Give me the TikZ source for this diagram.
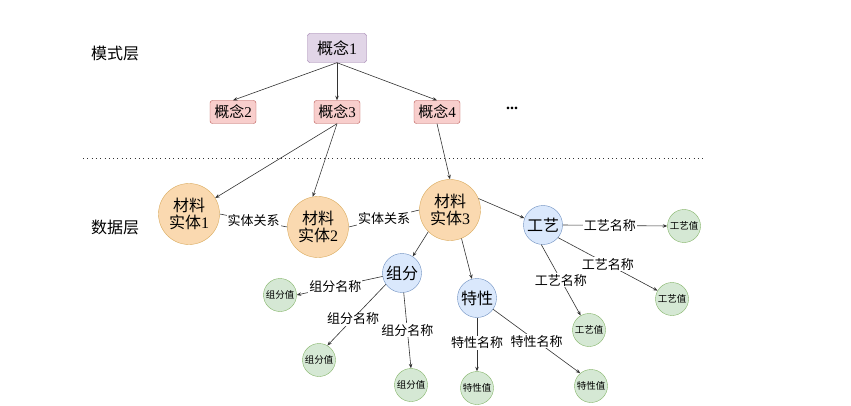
\documentclass[tikz,border=0pt]{standalone}
\usepackage{fontspec}
\setmainfont{Liberation Serif}
\newfontfamily\cjk{Noto Sans CJK SC}
\usetikzlibrary{arrows.meta}
\definecolor{purfill}{HTML}{E1D5E7}\definecolor{purline}{HTML}{9673A6}
\definecolor{redfill}{HTML}{F8CECC}\definecolor{redline}{HTML}{B85450}
\definecolor{orgfill}{HTML}{FAD9B0}\definecolor{orgline}{HTML}{D9A95A}
\definecolor{blufill}{HTML}{DAE8FC}\definecolor{bluline}{HTML}{6C8EBF}
\definecolor{grnfill}{HTML}{D5E8D4}\definecolor{grnline}{HTML}{82B366}
\definecolor{ln}{HTML}{333333}
\begin{document}
\begin{tikzpicture}[x=1pt,y=-1pt,
  concept/.style={draw=redline,fill=redfill,rounded corners=2.5pt,minimum width=46pt,minimum height=23pt,inner sep=0pt,font=\fontsize{15}{15}\selectfont},
  entity/.style={circle,draw=orgline,fill=orgfill,minimum size=61pt,inner sep=0pt,align=center,font=\fontsize{16}{17}\selectfont},
  attr/.style={circle,draw=bluline,fill=blufill,minimum size=39pt,inner sep=0pt,font=\fontsize{16}{16}\selectfont},
  val/.style={circle,draw=grnline,fill=grnfill,minimum size=33pt,inner sep=0pt,font=\fontsize{9.5}{10}\selectfont\cjk},
  lay/.style={font=\fontsize{16}{16}\selectfont\cjk},
  arr/.style={draw=ln,line width=0.6pt,-{Stealth[length=4.5pt,width=3.5pt]}},
  lnk/.style={draw=ln,line width=0.6pt},
  lbl/.style={fill=white,inner sep=1pt,font=\fontsize{13}{13}\selectfont\cjk}]
\useasboundingbox (0,0) rectangle (851,406);
% layer labels
\node[lay] (l1) at (115,53) {模式层};
\node[lay] (l2) at (115,227) {数据层};
\coordinate (d1) at (83,159);
\coordinate (d2) at (703,159);
\draw[ln,line width=1pt,dash pattern=on 1pt off 3.3pt] (d1) -- (d2);
% concepts
\node[concept,draw=purline,fill=purfill,minimum width=59pt,minimum height=29pt,font=\fontsize{16}{16}\selectfont] (c1) at (337,48) {{\cjk 概念}1};
\node[concept] (c2) at (233,112) {{\cjk 概念}2};
\node[concept] (c3) at (337,112) {{\cjk 概念}3};
\node[concept] (c4) at (437,112) {{\cjk 概念}4};
\node[font=\fontsize{16}{16}\selectfont\bfseries] (dots) at (512,108) {...};
\draw[arr] (c1.south) -- (c2.north);
\draw[arr] (c1.south) -- (c3.north);
\draw[arr] (c1.south) -- (c4.north);
% entities
\node[entity] (e1) at (189,214) {{\cjk 材料}\\{\cjk 实体}1};
\node[entity] (e2) at (318,227) {{\cjk 材料}\\{\cjk 实体}2};
\node[entity] (e3) at (450,210) {{\cjk 材料}\\{\cjk 实体}3};
\draw[arr] (c3.south) -- (e1);
\draw[arr] (c3.south) -- (e2.100);
\draw[arr] (c4.south) -- (e3.north);
\draw[lnk] (e1.east) -- node[lbl,pos=0.5] {实体关系} (e2.west);
\draw[lnk] (e2.east) -- node[lbl,pos=0.5] {实体关系} (e3.west);
% attributes
\node[attr] (zf) at (402,273) {\cjk 组分};
\node[attr] (tx) at (477,298) {\cjk 特性};
\node[attr] (gy) at (543,225) {\cjk 工艺};
\draw[arr] (e3.225) -- (zf.57);
\draw[arr] (e3.-68) -- (tx.105);
\draw[arr] (e3.22) -- (gy.160);
% values
\node[val] (z1) at (280,295) {组分值};
\node[val] (z2) at (319,360) {组分值};
\node[val] (z3) at (411,385) {组分值};
\node[val] (t1) at (477,388) {特性值};
\node[val] (t2) at (591,386) {特性值};
\node[val] (g1) at (684,226) {工艺值};
\node[val] (g2) at (672,299) {工艺值};
\node[val] (g3) at (589,330) {工艺值};
\draw[arr] (zf.190) -- node[lbl,pos=0.55] {组分名称} (z1.east);
\draw[arr] (zf.215) -- node[lbl,pos=0.56] {组分名称} (z2.60);
\draw[arr] (zf.275) -- node[lbl,pos=0.5] {组分名称} (z3.north);
\draw[arr] (tx.south) -- node[lbl,pos=0.47] {特性名称} (t1.north);
\draw[arr] (tx.-35) -- node[lbl,pos=0.5] {特性名称} (t2.130);
\draw[arr] (gy.east) -- node[lbl,pos=0.45] {工艺名称} (g1.west);
\draw[arr] (gy.-40) -- node[lbl,pos=0.5] {工艺名称} (g2.150);
\draw[arr] (gy.-95) -- node[lbl,pos=0.5] {工艺名称} (g3.120);
\end{tikzpicture}
\end{document}
